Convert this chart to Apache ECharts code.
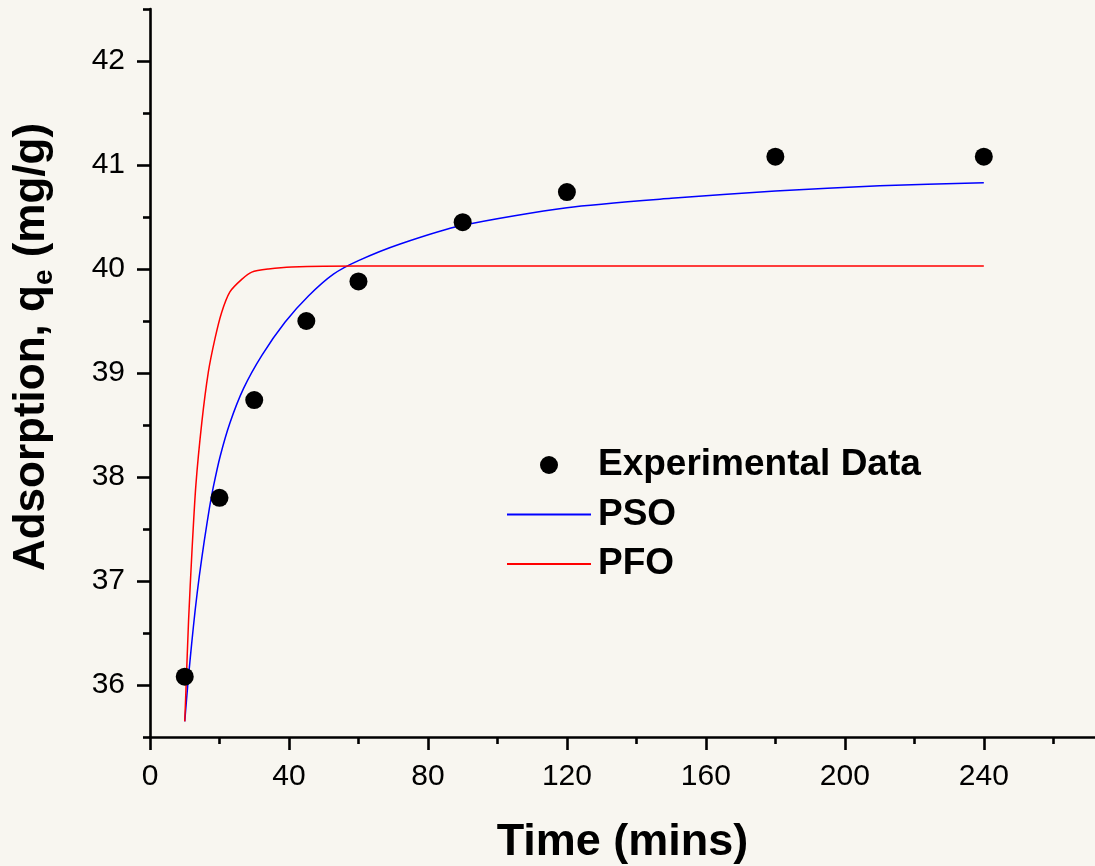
<!DOCTYPE html>
<html>
<head>
<meta charset="utf-8">
<script src="https://cdn.jsdelivr.net/npm/echarts@6/dist/echarts.min.js"></script>
<style>
  html, body { margin: 0; padding: 0; background: #f8f6f0; }
  #chart { width: 1095px; height: 866px; }
</style>
</head>
<body>
<div id="chart"></div>
<script>
// Measured uptake over time
const expTime = [10, 20, 30, 45, 60, 90, 120, 180, 240];
const expQe = [36.08, 37.80, 38.74, 39.50, 39.88, 40.45, 40.74, 41.08, 41.08];

// Pseudo-second-order fitted curve
const psoTime = [10, 11, 12, 13, 14.2, 15.6, 17.1, 18.2, 20.2, 23, 26.9, 32.2, 38.9, 45.6, 52.8, 60, 72, 90, 120, 150, 180, 210, 240];
const psoQe = [35.65, 36.05, 36.40, 36.72, 37.05, 37.38, 37.70, 37.90, 38.20, 38.52, 38.85, 39.17, 39.49, 39.74, 39.95, 40.08, 40.24, 40.42, 40.59, 40.68, 40.75, 40.80, 40.83];

// Pseudo-first-order fitted curve
const pfoTime = [10, 10.4, 11.1, 12.1, 13.2, 14.9, 16.8, 18.7, 20.6, 23, 26.4, 29.3, 34.1, 40.8, 60, 120, 180, 240];
const pfoQe = [35.65, 36.00, 36.62, 37.30, 37.92, 38.52, 39.01, 39.33, 39.58, 39.78, 39.90, 39.97, 40.00, 40.02, 40.03, 40.03, 40.03, 40.03];

// Axis ticks
const xMajorTicks = [0, 40, 80, 120, 160, 200, 240];
const xMinorTicks = [20, 60, 100, 140, 180, 220, 260];
const yMajorTicks = [36, 37, 38, 39, 40, 41, 42];
const yMinorTicks = [35.5, 36.5, 37.5, 38.5, 39.5, 40.5, 41.5, 42.5];

const FONT = "'Liberation Sans', Arial, Helvetica, sans-serif";
const pairs = (xs, ys) => xs.map((x, i) => [x, ys[i]]);

const X_MIN = 0, X_MAX = 272;
const Y_MIN = 35.5, Y_MAX = 42.5;
const axisStroke = { color: '#000', width: 2.6 };
// thin horizontal bar used as the legend key of the fitted lines
const lineKey = 'path://M0 0H84V2H0Z';

const chart = echarts.init(document.getElementById('chart'), null, { renderer: 'canvas' });

chart.setOption({
  animation: false,
  backgroundColor: '#f8f6f0',
  grid: { left: 150, right: 0, top: 9, bottom: 129, outerBoundsMode: 'none' },
  xAxis: [
    {
      type: 'value', position: 'bottom', min: X_MIN, max: X_MAX,
      axisLine: { show: true, lineStyle: axisStroke },
      axisTick: { show: true, length: 13, lineStyle: axisStroke, customValues: xMajorTicks },
      axisLabel: { show: true, customValues: xMajorTicks, fontFamily: FONT, fontSize: 30, color: '#000', margin: 25 },
      splitLine: { show: false },
      name: 'Time (mins)', nameLocation: 'middle', nameGap: 83,
      nameTextStyle: { fontFamily: FONT, fontSize: 45, fontWeight: 'bold', color: '#000' }
    },
    {
      type: 'value', position: 'bottom', min: X_MIN, max: X_MAX,
      axisLine: { show: false },
      axisTick: { show: true, length: 7, lineStyle: axisStroke, customValues: xMinorTicks },
      axisLabel: { show: false },
      splitLine: { show: false }
    }
  ],
  yAxis: [
    {
      type: 'value', position: 'left', min: Y_MIN, max: Y_MAX,
      axisLine: { show: true, lineStyle: axisStroke },
      axisTick: { show: true, length: 13, lineStyle: axisStroke, customValues: yMajorTicks },
      axisLabel: { show: true, customValues: yMajorTicks, fontFamily: FONT, fontSize: 30, color: '#000', margin: 25 },
      splitLine: { show: false },
      name: '{a|Adsorption, q}{s|e}{a| (mg/g)}',
      nameLocation: 'middle', nameGap: 92, nameRotate: 90,
      nameTextStyle: {
        padding: [0, 0, 0, 52],
        rich: {
          a: { fontFamily: FONT, fontSize: 44, fontWeight: 'bold', color: '#000', lineHeight: 52 },
          s: { fontFamily: FONT, fontSize: 28, fontWeight: 'bold', color: '#000', verticalAlign: 'bottom' }
        }
      }
    },
    {
      type: 'value', position: 'left', min: Y_MIN, max: Y_MAX,
      axisLine: { show: false },
      axisTick: { show: true, length: 7, lineStyle: axisStroke, customValues: yMinorTicks },
      axisLabel: { show: false },
      splitLine: { show: false }
    }
  ],
  legend: {
    orient: 'vertical', left: 502, top: 440,
    itemWidth: 84, itemHeight: 18, itemGap: 9.5,
    data: [
      { name: 'Experimental Data', icon: 'circle' },
      { name: 'PSO', icon: lineKey },
      { name: 'PFO', icon: lineKey }
    ],
    textStyle: { fontFamily: FONT, fontSize: 37, fontWeight: 'bold', color: '#000', lineHeight: 40, padding: [0, 0, 0, 2] }
  },
  series: [
    {
      name: 'PSO', type: 'line', xAxisIndex: 0, yAxisIndex: 0,
      data: pairs(psoTime, psoQe),
      symbol: 'none', smooth: 0.25,
      lineStyle: { color: '#0000ff', width: 1.5 },
      itemStyle: { color: '#0000ff' }, z: 2
    },
    {
      name: 'PFO', type: 'line', xAxisIndex: 0, yAxisIndex: 0,
      data: pairs(pfoTime, pfoQe),
      symbol: 'none', smooth: 0.25,
      lineStyle: { color: '#ff0000', width: 1.5 },
      itemStyle: { color: '#ff0000' }, z: 2
    },
    {
      name: 'Experimental Data', type: 'scatter', xAxisIndex: 0, yAxisIndex: 0,
      data: pairs(expTime, expQe),
      symbol: 'circle', symbolSize: 18,
      itemStyle: { color: '#000', opacity: 1 }, z: 3
    }
  ]
});
</script>
</body>
</html>
